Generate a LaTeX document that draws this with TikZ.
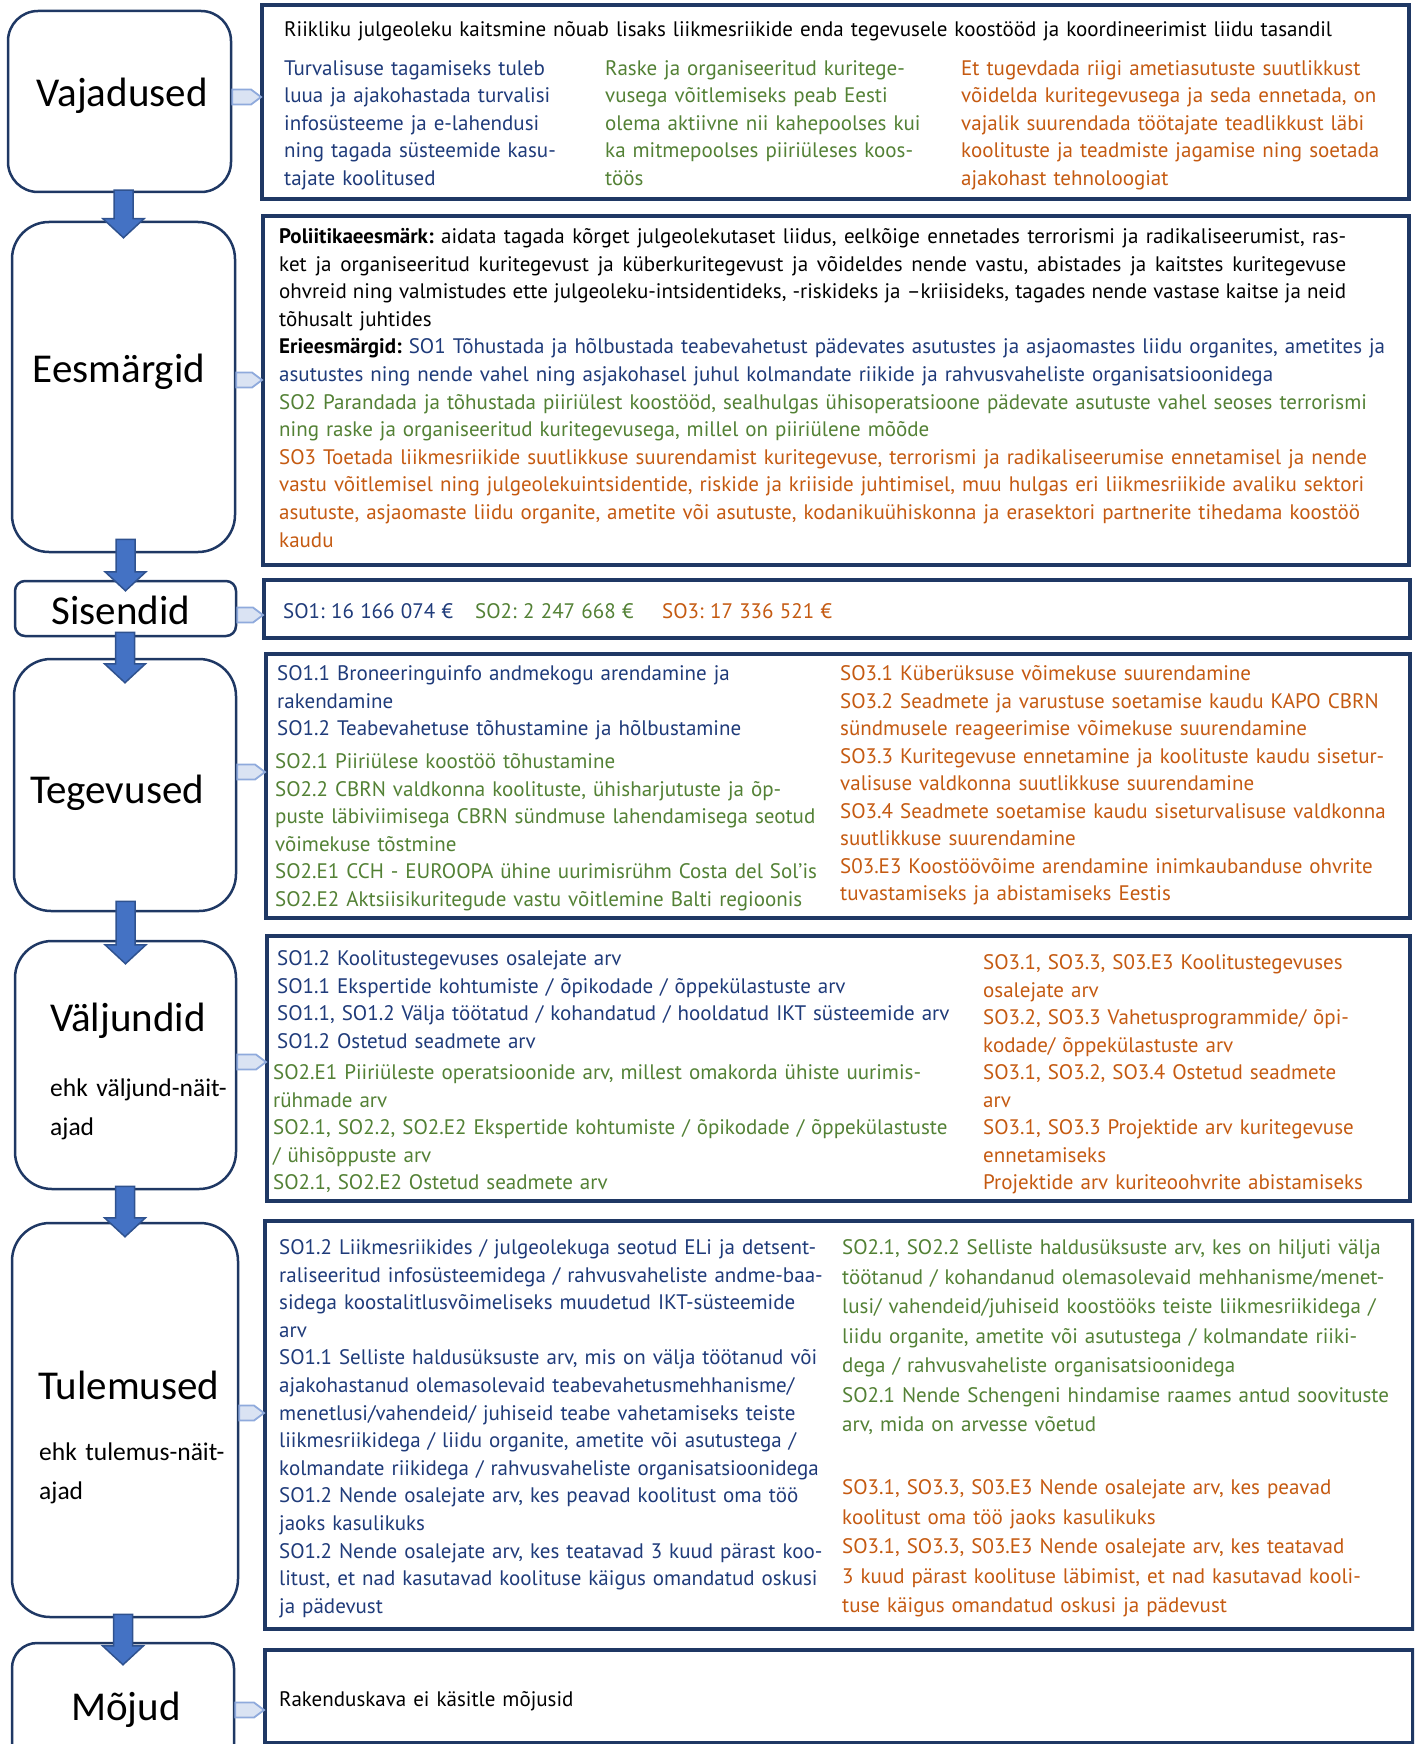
\documentclass[tikz,border=0pt]{standalone}
\usepackage{fontspec}
\setmainfont{PT Sans}
\newfontfamily\carl{Carlito}
\usetikzlibrary{calc}
\frenchspacing
\definecolor{navy}{HTML}{1F3864}
\definecolor{tblue}{HTML}{1F3B7A}
\definecolor{tgreen}{HTML}{538135}
\definecolor{torange}{HTML}{C55A11}
\definecolor{arrfill}{HTML}{4472C4}
\definecolor{arrdraw}{HTML}{2F528F}
\definecolor{conFill}{HTML}{DAE3F3}
\definecolor{conDraw}{HTML}{8FAADC}
\newcommand\ptsz{\fontsize{21}{27.5}\selectfont}
\newcommand\ptszb{\fontsize{21}{29.5}\selectfont}
\newcommand\jline[1]{\leavevmode\hbox to 1067pt{\spaceskip=\fontdimen2\font plus 20pt minus 2pt\relax #1}}
\newcommand\tightsp{\frenchspacing\spaceskip=0.3em\relax}
\newcommand\flowarrow[4]{%
  \filldraw[blk] let \p1=(#1.south), \p2=(#2.north) in
    (\x2-9.5pt,\y1+#3pt) -- (\x2+9.5pt,\y1+#3pt) -- (\x2+9.5pt,\y2-#4pt+19pt)
    -- (\x2+20.5pt,\y2-#4pt+19pt) -- (\x2,\y2-#4pt) -- (\x2-20.5pt,\y2-#4pt+19pt)
    -- (\x2-9.5pt,\y2-#4pt+19pt) -- cycle;}
\newcommand\feed[3]{%
  \filldraw[con] let \p1=(#1.east), \p2=(#2.west) in
    (\x1,#3pt+7.5pt) -- (\x2-9pt,#3pt+7.5pt) -- (\x2+1pt,#3pt) -- (\x2-9pt,#3pt-7.5pt)
    -- (\x1,#3pt-7.5pt) -- cycle;}
\tikzset{
  x=1pt, y=1pt,
  stage/.style={draw=navy, line width=2.5pt, rounded corners=#1, fill=white, inner sep=0pt},
  panel/.style={draw=navy, line width=4pt, fill=white, inner sep=0pt, anchor=north west},
  lbl/.style={font=\carl\fontsize{41}{49}\selectfont, inner sep=0pt},
  sublbl/.style={font=\carl\fontsize{25.5}{39}\selectfont, inner sep=0pt, anchor=base west, align=left, text width=300pt},
  txt/.style={anchor=base west, inner sep=0pt, align=left, text width=1120pt, font=\ptsz\frenchspacing, yshift=-1.5pt},
  blk/.style={fill=arrfill, draw=arrdraw, line width=1.5pt, line join=miter},
  con/.style={fill=conFill, draw=conDraw, line width=1.8pt, line join=miter},
}
\begin{document}
\begin{tikzpicture}
\useasboundingbox (0,0) rectangle (1414,-1744);
\clip (0,0) rectangle (1414,-1744);
% stage boxes
\node[stage=30pt, minimum width=223pt, minimum height=181pt] (vaj) at (119.5,-101.5) {};
\node[stage=37pt, minimum width=223pt, minimum height=330pt] (ees) at (123.5,-387) {};
\node[stage=10pt, minimum width=221pt, minimum height=55pt] (sis) at (125.5,-608.5) {};
\node[stage=37pt, minimum width=222pt, minimum height=252pt] (teg) at (125,-785) {};
\node[stage=37pt, minimum width=221pt, minimum height=248pt] (val) at (125.5,-1065) {};
\node[stage=38pt, minimum width=226pt, minimum height=394pt] (tul) at (125,-1420) {};
\node[stage=25pt, minimum width=222pt, minimum height=160pt] (moj) at (123,-1723) {};
% panels
\node[panel, minimum width=1147pt, minimum height=194pt] (p1) at (260,-3) {};
\node[panel, minimum width=1146pt, minimum height=349pt] (p2) at (261,-214) {};
\node[panel, minimum width=1146pt, minimum height=58pt] (p3) at (262,-578) {};
\node[panel, minimum width=1144pt, minimum height=264pt] (p4) at (264,-652) {};
\node[panel, minimum width=1143pt, minimum height=265pt] (p5) at (265,-934) {};
\node[panel, minimum width=1148pt, minimum height=408pt] (p6) at (263,-1219) {};
\node[panel, minimum width=1148pt, minimum height=93pt] (p7) at (263,-1648) {};
% arrows
\flowarrow{vaj}{ees}{3}{17}
\flowarrow{ees}{sis}{14}{11}
\flowarrow{sis}{teg}{5}{25}
\flowarrow{teg}{val}{11}{24}
\flowarrow{val}{tul}{4}{15}
\flowarrow{tul}{moj}{4}{23}
% feeders
\feed{vaj}{p1}{-97}
\feed{ees}{p2}{-380}
\feed{sis}{p3}{-615}
\feed{teg}{p4}{-772}
\feed{val}{p5}{-1062}
\feed{tul}{p6}{-1413}
\feed{moj}{p7}{-1710}
% labels
\node[lbl] (lvaj) at (122,-96) {Vajadused};
\node[lbl] (lees) at (119,-372) {Eesmärgid};
\node[lbl] (lsis) at (121,-610) {Sisendid};
\node[lbl] (lteg) at (117,-793) {Tegevused};
\node[lbl] (lval) at (128,-1021) {Väljundid};
\node[sublbl] (sval) at (50,-1096) {ehk väljund-näit-\\ajad};
\node[lbl] (ltul) at (129,-1385) {Tulemused};
\node[sublbl] (stul) at (39,-1460) {ehk tulemus-näit-\\ajad};
\node[lbl] (lmoj) at (126,-1710) {Mõjud};
% panel 1
\node[txt] (t1) at (284,-35) {Riikliku julgeoleku kaitsmine nõuab lisaks liikmesriikide enda tegevusele koostööd ja koordineerimist liidu tasandil};
\node[txt, text=tblue] (t1a) at (284,-74) {Turvalisuse tagamiseks tuleb\\luua ja ajakohastada turvalisi\\infosüsteeme ja e-lahendusi\\ning tagada süsteemide kasu-\\tajate koolitused};
\node[txt, text=tgreen] (t1b) at (605,-74) {Raske ja organiseeritud kuritege-\\vusega võitlemiseks peab Eesti\\olema aktiivne nii kahepoolses kui\\ka mitmepoolses piiriüleses koos-\\töös};
\node[txt, text=torange] (t1c) at (961,-74) {Et tugevdada riigi ametiasutuste suutlikkust\\võidelda kuritegevusega ja seda ennetada, on\\vajalik suurendada töötajate teadlikkust läbi\\koolituste ja teadmiste jagamise ning soetada\\ajakohast tehnoloogiat};
% panel 2
\node[txt, font=\fontsize{21}{27.6}\selectfont\frenchspacing] (t2) at (279,-242) {\jline{\textbf{Poliitikaeesmärk:} aidata tagada kõrget julgeolekutaset liidus, eelkõige ennetades terrorismi ja radikaliseerumist, ras-}\\
\jline{ket ja organiseeritud kuritegevust ja küberkuritegevust ja võideldes nende vastu, abistades ja kaitstes kuritegevuse}\\
\jline{ohvreid ning valmistudes ette julgeoleku-intsidentideks, -riskideks ja –kriisideks, tagades nende vastase kaitse ja neid}\\
tõhusalt juhtides\\
\textbf{Erieesmärgid:} {\color{tblue}SO1 Tõhustada ja hõlbustada teabevahetust pädevates asutustes ja asjaomastes liidu organites, ametites ja}\\
{\color{tblue}asutustes ning nende vahel ning asjakohasel juhul kolmandate riikide ja rahvusvaheliste organisatsioonidega}\\
{\color{tgreen}SO2 Parandada ja tõhustada piiriülest koostööd, sealhulgas ühisoperatsioone pädevate asutuste vahel seoses terrorismi}\\
{\color{tgreen}ning raske ja organiseeritud kuritegevusega, millel on piiriülene mõõde}\\
{\color{torange}SO3 Toetada liikmesriikide suutlikkuse suurendamist kuritegevuse, terrorismi ja radikaliseerumise ennetamisel ja nende}\\
{\color{torange}vastu võitlemisel ning julgeolekuintsidentide, riskide ja kriiside juhtimisel, muu hulgas eri liikmesriikide avaliku sektori}\\
{\color{torange}asutuste, asjaomaste liidu organite, ametite või asutuste, kodanikuühiskonna ja erasektori partnerite tihedama koostöö}\\
{\color{torange}kaudu}};
% panel 3
\node[txt, text=tblue] (t3a) at (283,-617) {\tightsp SO1: 16 166 074 €};
\node[txt, text=tgreen] (t3b) at (475,-617) {\tightsp SO2: 2 247 668 €};
\node[txt, text=torange] (t3c) at (662,-617) {\tightsp SO3: 17 336 521 €};
% panel 4
\node[txt, text=tblue] (t4a) at (277,-679) {SO1.1 Broneeringuinfo andmekogu arendamine ja\\rakendamine\\SO1.2 Teabevahetuse tõhustamine ja hõlbustamine};
\node[txt, text=tgreen] (t4b) at (275,-767) {SO2.1 Piiriülese koostöö tõhustamine\\SO2.2 CBRN valdkonna koolituste, ühisharjutuste ja õp-\\puste läbiviimisega CBRN sündmuse lahendamisega seotud\\võimekuse tõstmine\\SO2.E1 CCH - EUROOPA ühine uurimisrühm Costa del Sol’is\\SO2.E2 Aktsiisikuritegude vastu võitlemine Balti regioonis};
\node[txt, text=torange] (t4c) at (840,-679) {SO3.1 Küberüksuse võimekuse suurendamine\\SO3.2 Seadmete ja varustuse soetamise kaudu KAPO CBRN\\sündmusele reageerimise võimekuse suurendamine\\SO3.3 Kuritegevuse ennetamine ja koolituste kaudu sisetur-\\valisuse valdkonna suutlikkuse suurendamine\\SO3.4 Seadmete soetamise kaudu siseturvalisuse valdkonna\\suutlikkuse suurendamine\\S03.E3 Koostöövõime arendamine inimkaubanduse ohvrite\\tuvastamiseks ja abistamiseks Eestis};
% panel 5
\node[txt, text=tblue] (t5a) at (277,-964) {SO1.2 Koolitustegevuses osalejate arv\\SO1.1 Ekspertide kohtumiste / õpikodade / õppekülastuste arv\\SO1.1, SO1.2 Välja töötatud / kohandatud / hooldatud IKT süsteemide arv\\SO1.2 Ostetud seadmete arv};
\node[txt, text=tgreen] (t5b) at (273,-1078) {SO2.E1 Piiriüleste operatsioonide arv, millest omakorda ühiste uurimis-\\rühmade arv\\SO2.1, SO2.2, SO2.E2 Ekspertide kohtumiste / õpikodade / õppekülastuste\\/ ühisõppuste arv\\SO2.1, SO2.E2 Ostetud seadmete arv};
\node[txt, text=torange] (t5c) at (983,-968) {SO3.1, SO3.3, S03.E3 Koolitustegevuses\\osalejate arv\\SO3.2, SO3.3 Vahetusprogrammide/ õpi-\\kodade/ õppekülastuste arv\\SO3.1, SO3.2, SO3.4 Ostetud seadmete\\arv\\SO3.1, SO3.3 Projektide arv kuritegevuse\\ennetamiseks\\Projektide arv kuriteoohvrite abistamiseks};
% panel 6
\node[txt, text=tblue, font=\fontsize{21}{27.6}\selectfont\frenchspacing] (t6a) at (279,-1253) {SO1.2 Liikmesriikides / julgeolekuga seotud ELi ja detsent-\\raliseeritud infosüsteemidega / rahvusvaheliste andme-baa-\\sidega koostalitlusvõimeliseks muudetud IKT-süsteemide\\arv\\SO1.1 Selliste haldusüksuste arv, mis on välja töötanud või\\ajakohastanud olemasolevaid teabevahetusmehhanisme/\\menetlusi/vahendeid/ juhiseid teabe vahetamiseks teiste\\liikmesriikidega / liidu organite, ametite või asutustega /\\kolmandate riikidega / rahvusvaheliste organisatsioonidega\\SO1.2 Nende osalejate arv, kes peavad koolitust oma töö\\jaoks kasulikuks\\SO1.2 Nende osalejate arv, kes teatavad 3 kuud pärast koo-\\litust, et nad kasutavad koolituse käigus omandatud oskusi\\ja pädevust};
\node[txt, text=tgreen, font=\ptszb\frenchspacing] (t6b) at (842,-1253) {SO2.1, SO2.2 Selliste haldusüksuste arv, kes on hiljuti välja\\töötanud / kohandanud olemasolevaid mehhanisme/menet-\\lusi/ vahendeid/juhiseid koostööks teiste liikmesriikidega /\\liidu organite, ametite või asutustega / kolmandate riiki-\\dega / rahvusvaheliste organisatsioonidega\\SO2.1 Nende Schengeni hindamise raames antud soovituste\\arv, mida on arvesse võetud};
\node[txt, text=torange, font=\ptszb\frenchspacing] (t6c) at (842,-1493) {SO3.1, SO3.3, S03.E3 Nende osalejate arv, kes peavad\\koolitust oma töö jaoks kasulikuks\\SO3.1, SO3.3, S03.E3 Nende osalejate arv, kes teatavad\\3 kuud pärast koolituse läbimist, et nad kasutavad kooli-\\tuse käigus omandatud oskusi ja pädevust};
% panel 7
\node[txt] (t7) at (279,-1705) {Rakenduskava ei käsitle mõjusid};
\end{tikzpicture}
\end{document}
